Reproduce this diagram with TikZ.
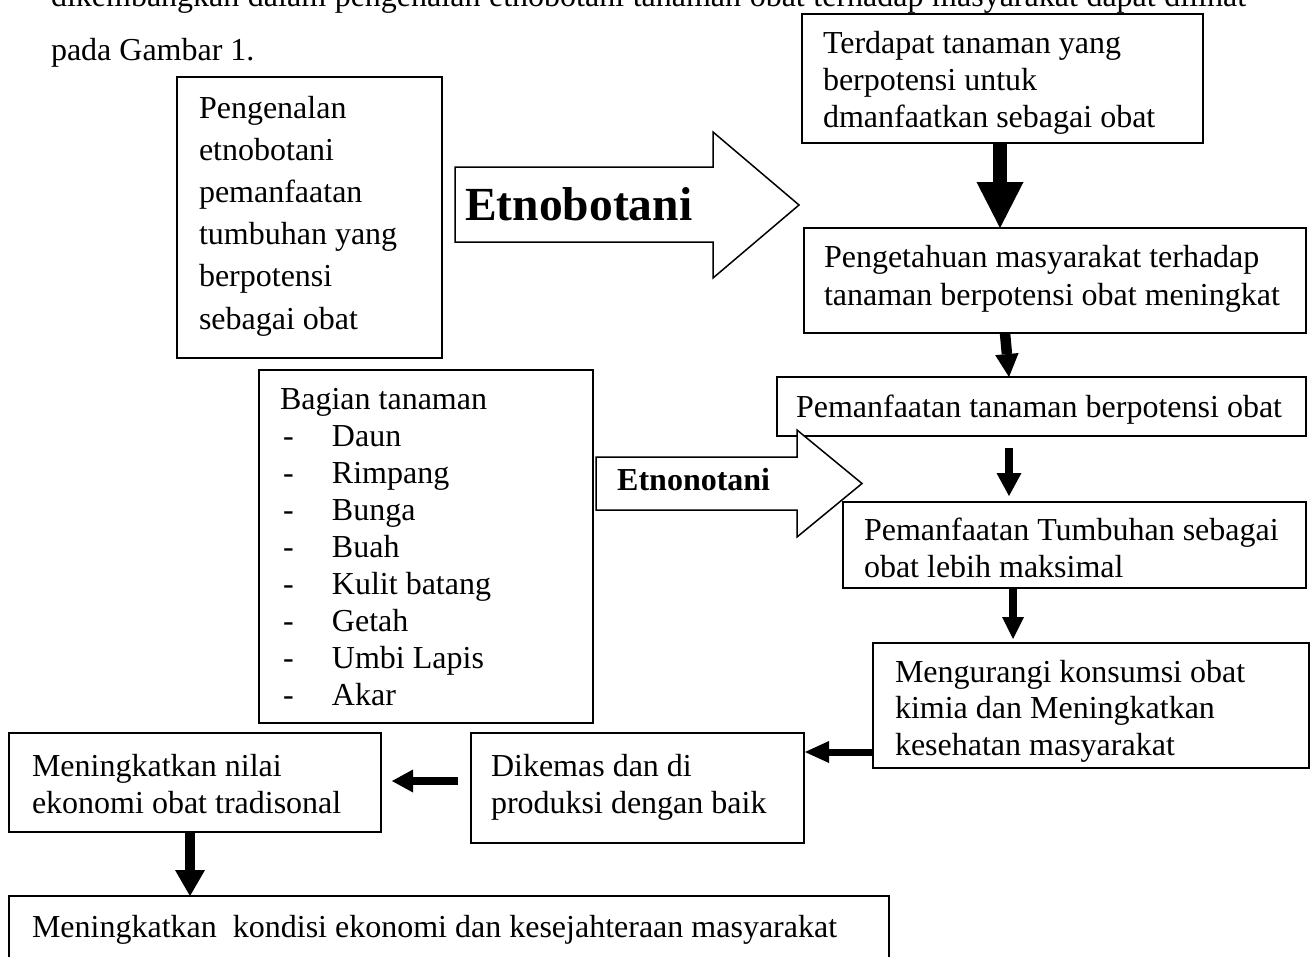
\documentclass[tikz,border=0pt]{standalone}
\usepackage{fontspec}
\setmainfont{Liberation Serif}
\usetikzlibrary{arrows.meta}
\newcommand\ml[2]{{\fontsize{32}{#1}\selectfont\begin{tabular}[t]{@{}l@{}}#2\end{tabular}}}
\newcommand\itm[1]{\hspace*{3pt}\makebox[49pt][l]{-}#1}
\begin{document}
\begin{tikzpicture}[x=1pt,y=-1pt,
  box/.style={draw, line width=1.5pt, inner sep=0pt, outer sep=0pt, anchor=north west, fill=white},
  txt/.style={anchor=base west, inner sep=0pt, outer sep=0pt, font=\fontsize{32}{37}\selectfont},
  blockarrow/.style={draw, line width=1.5pt, fill=white, line join=miter},
  arr/.style n args={3}{line width=#1pt, -{Triangle[length=#2pt, width=#3pt, line width=0pt]}},
]
\useasboundingbox (0,0) rectangle (1311,956);
\clip (0,0) rectangle (1311,956);

% body text lines above the figure
\node[txt] (t0) at (51,6) {\makebox[1195pt][s]{dikembangkan dalam pengenalan etnobotani tanaman obat terhadap masyarakat dapat dilihat}};
\node[txt] (t1) at (51,60) {pada Gambar 1.};

% boxes
\node[box, minimum width=401pt, minimum height=129pt] (A) at (802,14) {};
\node[box, minimum width=502pt, minimum height=105pt] (B) at (804,228) {};
\node[box, minimum width=529pt, minimum height=59pt] (C) at (777,377) {};
\node[box, minimum width=463pt, minimum height=86pt] (D) at (843,502) {};
\node[box, minimum width=436pt, minimum height=125pt] (E) at (873,643) {};
\node[box, minimum width=265pt, minimum height=281pt] (P) at (177,77) {};
\node[box, minimum width=334pt, minimum height=353pt] (Bag) at (259,370) {};
\node[box, minimum width=372pt, minimum height=99pt] (G) at (9,733) {};
\node[box, minimum width=333pt, minimum height=110pt] (H) at (471,733) {};
\node[box, minimum width=880pt, minimum height=95pt] (I) at (9,896) {};

% block arrows
\draw[blockarrow] (455,167) -- (713,167) -- (713,132) -- (799,205) -- (713,278) -- (713,242) -- (455,242) -- cycle;
\draw[blockarrow] (596,457) -- (797,457) -- (797,430) -- (862,483.5) -- (797,537) -- (797,510) -- (596,510) -- cycle;
\node[anchor=base west, inner sep=0pt, font=\bfseries\fontsize{47.5}{50}\selectfont] (L1) at (465,220) {Etnobotani};
\node[anchor=base west, inner sep=0pt, font=\bfseries\fontsize{32}{37}\selectfont] (L2) at (617,490) {Etnonotani};

% connector positions
\coordinate (xab) at (1000,0);
\coordinate (xb1) at (1005,0);
\coordinate (xb2) at (1009,0);
\coordinate (xcd) at (1009,0);
\coordinate (xde) at (1013,0);
\coordinate (yef) at (0,752);
\coordinate (yhg) at (0,781);
\coordinate (xgi) at (190,0);

% connectors
\draw[arr={14}{46}{47}] (A.south -| xab) -- (B.north -| xab);
\draw[arr={10.5}{23}{23.5}] (B.south -| xb1) -- (C.north -| xb2);
\draw[arr={8}{23}{25}, shorten <=12pt, shorten >=6pt] (C.south -| xcd) -- (D.north -| xcd);
\draw[arr={7.5}{22}{22}, shorten >=4pt] (D.south -| xde) -- (E.north -| xde);
\draw[arr={7}{24}{22}, shorten >=1pt] (E.west |- yef) -- (H.east |- yef);
\draw[arr={7.5}{21}{23}, shorten <=13pt, shorten >=11pt] (H.west |- yhg) -- (G.east |- yhg);
\draw[arr={10}{26}{30}] (G.south -| xgi) -- (I.north -| xgi);

% texts
\node[txt] (tA) at (823,53) {\ml{37}{Terdapat tanaman yang\\berpotensi untuk\\dmanfaatkan sebagai obat}};
\node[txt] (tB) at (824,267) {\ml{38}{Pengetahuan masyarakat terhadap\\tanaman berpotensi obat meningkat}};
\node[txt] (tC) at (796,417) {Pemanfaatan tanaman berpotensi obat};
\node[txt] (tD) at (864,540) {\ml{37}{Pemanfaatan Tumbuhan sebagai\\obat lebih maksimal}};
\begin{scope}
\clip (873,643) rectangle (1309,761);
\node[txt] (tE) at (895,682) {\ml{36.5}{Mengurangi konsumsi obat\\kimia dan Meningkatkan\\kesehatan masyarakat}};
\end{scope}
\node[txt] (tP) at (199,118) {\ml{42.2}{Pengenalan\\etnobotani\\pemanfaatan\\tumbuhan yang\\berpotensi\\sebagai obat}};
\node[txt] (tBag) at (280,409) {\ml{37.1}{Bagian tanaman\\\itm{Daun}\\\itm{Rimpang}\\\itm{Bunga}\\\itm{Buah}\\\itm{Kulit batang}\\\itm{Getah}\\\itm{Umbi Lapis}\\\itm{Akar}}};
\node[txt] (tG) at (32,776) {\ml{37}{Meningkatkan nilai\\ekonomi obat tradisonal}};
\node[txt] (tH) at (491,776) {\ml{37}{Dikemas dan di\\produksi dengan baik}};
\node[txt] (tI) at (32,937) {Meningkatkan\ \ kondisi ekonomi dan kesejahteraan masyarakat};
\end{tikzpicture}
\end{document}
